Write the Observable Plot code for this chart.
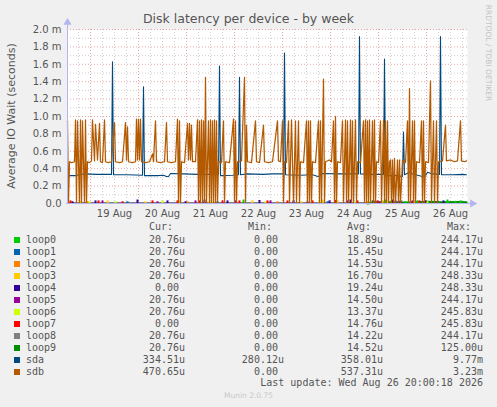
<!DOCTYPE html>
<html><head><meta charset="utf-8">
<script src="https://cdn.jsdelivr.net/npm/d3@7"></script>
<script src="https://cdn.jsdelivr.net/npm/@observablehq/plot@0.6"></script>
<style>
body{margin:0;background:#f0f0f0;}
#wrap{position:relative;width:497px;height:407px;background:#f0f0f0;font-family:"DejaVu Sans",sans-serif;color:#555;overflow:hidden}
#wrap svg{position:absolute;left:0;top:0}
.abs{position:absolute;white-space:pre}
.mono{font-family:"DejaVu Sans Mono",monospace;font-size:10px;line-height:12px;color:#555}
</style></head><body><div id="wrap"></div>
<script>
// ---- data (sample index = 30-minute steps from start, value in milliseconds) ----
const startTime = Date.UTC(2026, 7, 18, 12, 30);
const dayLabels = ["19 Aug","20 Aug","21 Aug","22 Aug","23 Aug","24 Aug","25 Aug","26 Aug"];
const yTicks = [0,0.2,0.4,0.6,0.8,1.0,1.2,1.4,1.6,1.8,2.0];
const yMinor = [0.1,0.3,0.5,0.7,0.9,1.1,1.3,1.5,1.7,1.9];

const sdb = [[0,0.95],[1,0],[2,0.48],[4,0.47],[7,0.48],
[8,0.96],[9,0],[10,0.95],[12,0],[13,0.96],[14,0],[15,0.95],[17,0],[18,0.96],[19,0],[20,0.48],[22,0.47],[24,0.49],
[25,0.96],[27,0.49],[28,0.91],[30,0.5],[32,0.92],[33,0.48],[35,0.47],
[37,0.96],[38,0.48],[41,0.47],[44,0.48],
[47,0.93],[48,0.48],[52,0.47],[55,0.48],
[58,0.93],[59,0.5],[60,0.88],[61,0.48],[65,0.47],[68,0.48],
[69,0.97],[70,0.5],[71,0.97],[72,0.5],[73,0.97],[74,0.48],[78,0.47],[82,0.48],
[85,0.57],[86,0.48],[88,0.95],[89,0.48],[93,0.47],[97,0.48],
[99,0.93],[100,0.48],[104,0.47],[108,0.48],
[110,0.97],[111,0],[112,0.95],[113,0],[114,0.48],[117,0.47],
[120,0.92],[121,0.5],[122,0.92],[123,0.5],[124,0.9],[125,0.48],[128,0.48],
[130,0.96],[131,0],[132,0.95],[133,0],[134,0.96],[135,0],[136,0.95],[137,0],[138,1.45],[139,0],[140,0.48],[141,0.95],[142,0],[143,0.96],[144,0],[145,0.95],[146,0],[147,0.96],[148,0],[149,0.95],[150,0],[151,0.48],
[154,0.47],[156,0.95],[157,0],[158,0.48],[162,0.47],
[166,0.97],[167,0],[168,0.95],[169,0],[170,0.48],[174,0.49],
[177,1.45],[178,0],[179,0.9],[180,0.48],[184,0.47],
[188,0.95],[189,0.48],[192,0.47],
[196,0.9],[197,0.48],[201,0.47],[205,0.48],
[210,0.95],[211,0.49],[213,0.48],
[215,0.95],[216,0],[217,0.48],[219,0.47],
[221,0.95],[222,0],[224,0.96],[226,0],[228,0.95],[229,0],[231,0.95],[232,0],[233,0.48],[236,0.47],
[239,0.95],[240,0],[241,0.95],[242,0],[243,0.95],[244,0],[245,0.48],[248,0.47],
[251,0.95],[252,0],[253,0.95],[254,0],[256,1.43],[257,0],[258,0.48],[262,0.5],[264,0.48],
[266,0.95],[267,0],[268,1.0],[269,0],[270,0.48],[273,0.47],
[275,0.95],[276,0],[278,0.96],[279,0],[280,0.95],[281,0],[283,0.96],[284,0],[285,0.95],[286,0],[288,0.96],[289,0],[290,0.48],[293,0.47],
[296,0.95],[297,0],[298,0.96],[299,0],[300,0.95],[301,0],[302,0.96],[303,0],[305,0.95],[306,0],[307,0.96],[308,0],[309,0.48],[311,0.47],
[313,0.95],[314,0],[316,0.96],[317,0],[318,0.95],[319,0],[320,0.95],[321,0],[322,0.48],
[323,0.5],[324,0],[325,0.5],[326,0],[327,0.52],[328,0],[330,0.5],[331,0],[332,0.5],[333,0],[335,0.5],[336,0.48],[338,0.47],
[340,0.95],[341,0],[342,1.32],[343,0],[345,0.95],[346,0],[347,0.95],[348,0],[349,0.48],[352,0.47],
[354,0.95],[355,0],[356,0.95],[357,0],[358,0.48],[361,0.47],
[363,1.41],[364,0],[366,0.95],[367,0],[369,0.95],[370,0],[371,0.48],[375,0.49],
[378,0.9],[379,0.49],[383,0.5],[387,0.48],[390,0.49],
[393,0.95],[394,0.49],[397,0.48],[399,0.49]];

const sda = [[0,0.32],[8,0.32],[12,0.33],[16,0.34],[30,0.335],[44,0.335],[45,1.63],[46,0.33],[60,0.33],[75,0.325],[76,1.34],[77,0.32],
[90,0.32],[96,0.325],[99,0.31],[101,0.31],[103,0.345],[115,0.34],[130,0.335],[151,0.335],[152,1.58],[153,0.32],[165,0.325],[171,0.33],
[172,1.45],[173,0.33],[180,0.34],[195,0.335],[205,0.34],[216,0.34],[217,1.73],[218,0.33],[232,0.325],[245,0.33],[249,0.315],[252,0.31],
[255,0.345],[270,0.34],[291,0.34],[292,1.92],[293,0.34],[305,0.335],[316,0.335],[317,1.66],[318,0.32],[330,0.32],[335,0.31],[336,0.82],
[337,0.33],[342,0.36],[345,0.34],[355,0.31],[358,0.32],[360,0.36],[365,0.34],[372,0.335],[373,1.92],[374,0.33],[385,0.33],[395,0.335],[399,0.33]];

const loop0 = [[176,0.04],[305,0.03],[318,0.04],[338,0.02],[350,0.03],[371,0.02],[380,0.04],[388,0.025],[393,0.03]];
const loop1 = [[60,0.02],[150,0.02],[260,0.02],[330,0.02]];
const loop2 = [[20,0.02],[120,0.02],[210,0.02],[300,0.02]];
const loop3 = [[13,0.025],[40,0.03],[78,0.02],[112,0.03],[142,0.02],[185,0.03],[234,0.02],[255,0.04],[270,0.03],[315,0.03],[347,0.02]];
const loop4 = [[5,0.02],[28,0.03],[70,0.04],[100,0.03],[118,0.02],[137,0.04],[160,0.03],[192,0.035],[226,0.03],[262,0.03],[283,0.04],[306,0.03],[325,0.04],[333,0.03],[358,0.03],[376,0.03]];
const loop5 = [[35,0.03],[90,0.02],[128,0.03],[168,0.03],[203,0.03],[240,0.02],[280,0.03],[312,0.02],[345,0.03],[370,0.02]];
const loop6 = [[22,0.02],[48,0.02],[95,0.03],[145,0.02],[198,0.02],[252,0.03],[287,0.02],[320,0.03],[360,0.02]];
const loop7 = [[3,0.03],[31,0.03],[55,0.02],[85,0.03],[110,0.03],[132,0.03],[155,0.03],[172,0.03],[200,0.03],[220,0.03],[245,0.03],[268,0.035],[290,0.03],[310,0.03],[328,0.03],[352,0.03]];
const loop8 = [[0,0.008],[100,0.008],[200,0.009],[300,0.008],[399,0.008]];
const loop9 = [[300,0],[305,0.012],[320,0.015],[340,0.012],[360,0.02],[375,0.015],[390,0.018],[399,0.015]];

const names = ["loop0","loop1","loop2","loop3","loop4","loop5","loop6","loop7","loop8","loop9","sda","sdb"];
const colors = ["#00cc00","#0066b3","#ff8000","#ffcc00","#330099","#990099","#ccff00","#ff0000","#808080","#008f00","#00487d","#b35a00"];
const curVals = ["20.76u","20.76u","20.76u","20.76u","0.00 ","20.76u","20.76u","0.00 ","20.76u","20.76u","334.51u","470.65u"];
const minVals = ["0.00 ","0.00 ","0.00 ","0.00 ","0.00 ","0.00 ","0.00 ","0.00 ","0.00 ","0.00 ","280.12u","0.00 "];
const avgVals = ["18.89u","15.45u","14.53u","16.70u","19.24u","14.50u","13.37u","14.76u","14.22u","14.52u","358.01u","537.31u"];
const maxVals = ["244.17u","244.17u","244.17u","248.33u","248.33u","244.17u","245.83u","245.83u","244.17u","125.00u","9.77m","3.23m"];

// ---- helpers ----
const step = 30 * 60 * 1000;
const T = s => new Date(startTime + s * step);
const xDomain = [T(0), T(400)];
const midnights = d3.utcDay.range(T(0), T(400));
const noons = midnights.map(d => new Date(+d + 12 * 3600 * 1000));
const sixHours = d3.utcHour.every(6).range(T(0), T(400)).filter(d => d.getUTCHours() !== 0);
const labelOf = new Map(noons.map((d, i) => [+d, dayLabels[i]]));

const loops = [loop0,loop1,loop2,loop3,loop4,loop5,loop6,loop7];
const spikeMarks = loops.map((arr, i) => Plot.ruleX(arr, {x: d => T(d[0]), y1: 0, y2: d => d[1], stroke: colors[i], strokeWidth: 2}));

const gridGray = "#cfcfcf", gridRed = "#eba5a5", axisCol = "#b4b4f0";

const chart = Plot.plot({
  width: 497, height: 222,
  marginLeft: 67, marginRight: 30, marginTop: 29, marginBottom: 19,
  style: {background: "transparent", fontFamily: "DejaVu Sans", fontSize: "10px", color: "#555"},
  x: {type: "utc", domain: xDomain, ticks: noons, tickFormat: d => labelOf.get(+d), tickSize: 0, tickPadding: 6, label: null},
  y: {domain: [0, 2], ticks: yTicks, tickFormat: d => d === 0 ? "0.0" : d.toFixed(1) + " m", tickSize: 0, tickPadding: 6, label: null},
  marks: [
    Plot.frame({fill: "white", stroke: "none"}),
    Plot.ruleY(yMinor, {stroke: gridGray, strokeDasharray: "1,2"}),
    Plot.ruleX(sixHours, {stroke: gridGray, strokeDasharray: "1,2"}),
    Plot.ruleY(yTicks.filter(d => d > 0), {stroke: gridRed, strokeDasharray: "1,2"}),
    Plot.ruleX(midnights, {stroke: gridRed, strokeDasharray: "1,2"}),
    Plot.line(loop8, {x: d => T(d[0]), y: d => d[1], stroke: colors[8], strokeWidth: 1.5}),
    Plot.line(loop9, {x: d => T(d[0]), y: d => d[1], stroke: colors[9], strokeWidth: 2}),
    ...spikeMarks,
    Plot.line(sda, {x: d => T(d[0]), y: d => d[1], stroke: colors[10], strokeWidth: 1.1}),
    Plot.line(sdb, {x: d => T(d[0]), y: d => d[1], stroke: colors[11], strokeWidth: 1.25}),
    Plot.ruleX([T(0)], {y1: 0, y2: 2.06, stroke: axisCol}),
    Plot.ruleY([0], {x1: T(-1), x2: T(404), stroke: axisCol}),
    Plot.dot([[0, 2.08]], {x: d => T(d[0]), y: d => d[1], symbol: "triangle", r: 3, fill: axisCol, stroke: "none"}),
    Plot.dot([[405, 0]], {x: d => T(d[0]), y: d => d[1], symbol: "triangle", r: 3, fill: axisCol, stroke: "none", rotate: 90})
  ]
});

const wrap = document.getElementById("wrap");
wrap.appendChild(chart);

function addText(txt, css, cls) {
  const el = document.createElement("div");
  el.className = "abs " + (cls || "");
  el.textContent = txt;
  Object.assign(el.style, css);
  wrap.appendChild(el);
  return el;
}
// title
addText("Disk latency per device - by week", {left: "0px", width: "497px", textAlign: "center", top: "11px", fontSize: "12.5px", lineHeight: "16px", color: "#555"});
// y label
addText("Average IO Wait (seconds)", {left: "11px", top: "116px", fontSize: "11px", lineHeight: "13px", transform: "translate(-50%,-50%) rotate(-90deg)", color: "#555"});
// rrdtool credit
addText("RRDTOOL / TOBI OETIKER", {left: "488px", top: "53px", fontSize: "7.5px", lineHeight: "9px", transform: "translate(-50%,-50%) rotate(90deg)", color: "#c4c4c4"});

// legend
const colRight = [185, 284, 383, 483];
const headers = ["Cur:", "Min:", "Avg:", "Max:"];
headers.forEach((h, i) => addText(h, {left: (colRight[i] - 12 - 100) + "px", width: "100px", textAlign: "right", top: (227.3 - 6) + "px"}, "mono"));
names.forEach((n, r) => {
  const cy = 239.7 + 12 * r;
  const sw = document.createElement("div");
  Object.assign(sw.style, {position: "absolute", left: "14px", top: (cy - 3) + "px", width: "6px", height: "6px", background: colors[r]});
  wrap.appendChild(sw);
  addText(n, {left: "26px", top: (cy - 6) + "px"}, "mono");
  [curVals[r], minVals[r], avgVals[r], maxVals[r]].forEach((v, i) =>
    addText(v, {left: (colRight[i] - 100) + "px", width: "100px", textAlign: "right", top: (cy - 6) + "px"}, "mono"));
});
addText("Last update: Wed Aug 26 20:00:18 2026", {left: (483 - 300) + "px", width: "300px", textAlign: "right", top: (383.3 - 6) + "px"}, "mono");
addText("Munin 2.0.75", {left: "0px", width: "497px", textAlign: "center", top: "391px", fontSize: "7.5px", lineHeight: "9px", color: "#c8c8c8"});
</script></body></html>
